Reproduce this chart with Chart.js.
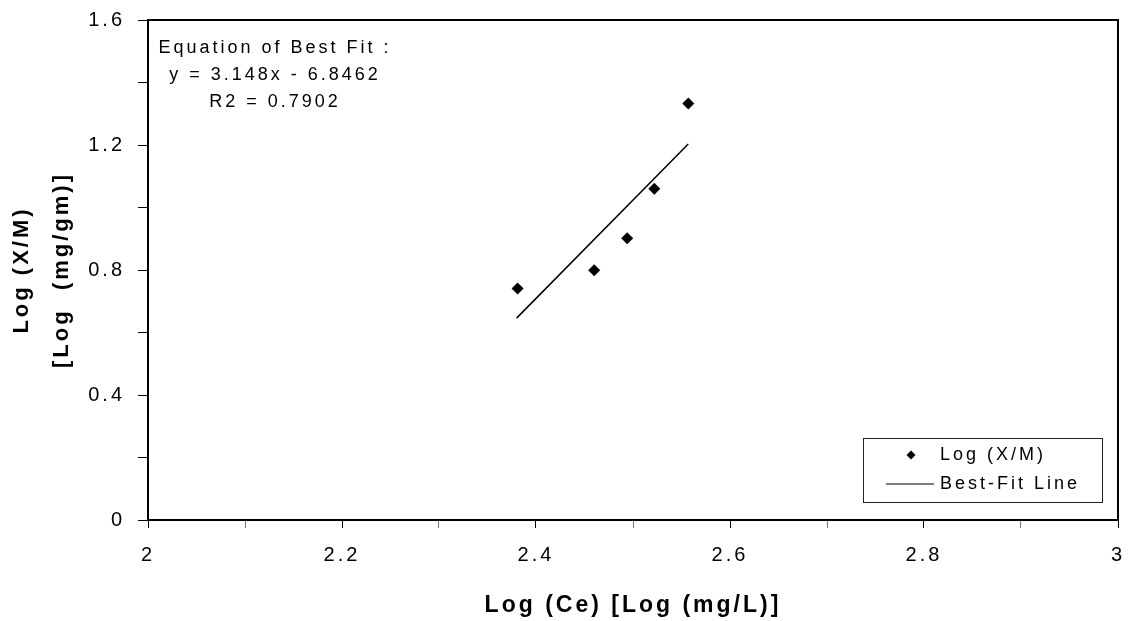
<!DOCTYPE html>
<html><head><meta charset="utf-8">
<script src="https://cdn.jsdelivr.net/npm/chart.js@4/dist/chart.umd.min.js"></script>
<style>html,body{margin:0;padding:0;background:#fff;} #wrap{width:1130px;height:621px;position:relative;}</style>
</head><body><div id="wrap"><canvas id="c" width="1130" height="621"></canvas></div>
<script>
const logCe = [2.381, 2.460, 2.494, 2.522, 2.557];
const logXM = [0.741, 0.799, 0.902, 1.060, 1.333];
const fitX = [2.380, 2.557];
const fitY = [0.646, 1.203];
const xTickLabels = ['2', '2.2', '2.4', '2.6', '2.8', '3'];
const yTickLabels = ['0', '0.4', '0.8', '1.2', '1.6'];
const seriesNames = ['Log (X/M)', 'Best-Fit Line'];
const xTitle = 'Log (Ce) [Log (mg/L)]';
const yTitle = ['Log (X/M)', '[Log  (mg/gm)]'];
const noteLines = ['Equation of Best Fit :', 'y = 3.148x - 6.8462', 'R2 = 0.7902'];

const FONT = "'Liberation Sans', Arial, sans-serif";
const SPACING = '3px';

const spacingPlugin = {
  id: 'spacing',
  beforeUpdate(c) { c.ctx.letterSpacing = SPACING; },
  beforeDraw(c) { c.ctx.letterSpacing = SPACING; }
};

const decorPlugin = {
  id: 'decor',
  afterDraw(c) {
    const ctx = c.ctx, a = c.chartArea;
    ctx.save();
    ctx.letterSpacing = SPACING;
    // frame top and right
    ctx.strokeStyle = '#000';
    ctx.lineWidth = 2;
    ctx.beginPath();
    ctx.moveTo(a.left, a.top);
    ctx.lineTo(a.right, a.top);
    ctx.lineTo(a.right, a.bottom);
    ctx.stroke();
    // notes
    ctx.fillStyle = '#000';
    ctx.font = '18px ' + FONT;
    ctx.textAlign = 'center';
    ctx.textBaseline = 'middle';
    noteLines.forEach((t, i) => ctx.fillText(t, a.left + 127, a.top + 28 + i * 27));
    // legend box
    const bx = a.right - 255, by = a.bottom - 82, bw = 239, bh = 64;
    ctx.lineWidth = 1;
    ctx.strokeStyle = '#222';
    ctx.strokeRect(bx + 0.5, by + 0.5, bw, bh);
    const ds = c.data.datasets;
    // diamond
    const dx = bx + 48, dy = by + 17, r = 4.5;
    ctx.fillStyle = ds[0].backgroundColor;
    ctx.beginPath();
    ctx.moveTo(dx, dy - r); ctx.lineTo(dx + r, dy); ctx.lineTo(dx, dy + r); ctx.lineTo(dx - r, dy);
    ctx.closePath(); ctx.fill();
    // line
    ctx.strokeStyle = ds[1].borderColor;
    ctx.lineWidth = 1.2;
    ctx.beginPath();
    ctx.moveTo(bx + 23, by + 46); ctx.lineTo(bx + 71, by + 46); ctx.stroke();
    ctx.fillStyle = '#000';
    ctx.font = '18px ' + FONT;
    ctx.textAlign = 'left';
    ctx.fillText(ds[0].label, bx + 77, dy);
    ctx.fillText(ds[1].label, bx + 77, by + 46);
    ctx.restore();
  }
};

new Chart(document.getElementById('c'), {
  type: 'scatter',
  data: {
    datasets: [
      {
        label: seriesNames[0],
        data: logCe.map((x, i) => ({ x: x, y: logXM[i] })),
        pointStyle: 'rectRot',
        pointRadius: 6,
        backgroundColor: '#000',
        borderColor: '#000',
        borderWidth: 0,
        showLine: false
      },
      {
        label: seriesNames[1],
        data: fitX.map((x, i) => ({ x: x, y: fitY[i] })),
        showLine: true,
        pointRadius: 0,
        borderColor: '#000',
        borderWidth: 1.5,
        fill: false
      }
    ]
  },
  options: {
    responsive: false,
    devicePixelRatio: 1,
    animation: false,
    layout: { padding: { left: 0, top: 20, right: 12, bottom: 0 } },
    plugins: { legend: { display: false }, tooltip: { enabled: false } },
    scales: {
      x: {
        type: 'linear', min: 2, max: 3,
        border: { display: true, color: '#000', width: 2 },
        grid: { drawOnChartArea: false, drawTicks: true, tickLength: 8,
                tickColor: (ctx) => (ctx.index % 2 ? '#777' : '#000'), lineWidth: 1 },
        ticks: {
          stepSize: 0.1, autoSkip: false, maxRotation: 0, padding: 15, color: '#000',
          font: { family: FONT, size: 20 },
          callback: (v, i) => (i % 2 === 0 ? xTickLabels[i / 2] : '')
        },
        title: { display: true, text: xTitle, color: '#000',
                 font: { family: FONT, size: 23, weight: 'bold', lineHeight: 1.2 },
                 padding: { top: 0, bottom: 2 } },
        afterFit: (s) => { s.height = 101; s.paddingLeft = 0; s.paddingRight = 0; }
      },
      y: {
        type: 'linear', min: 0, max: 1.6,
        border: { display: true, color: '#000', width: 2 },
        grid: { drawOnChartArea: false, drawTicks: true, tickLength: 10, tickColor: '#000', lineWidth: 1 },
        ticks: {
          stepSize: 0.2, autoSkip: false, padding: 13, color: '#000',
          font: { family: FONT, size: 20 },
          callback: (v, i) => (i % 2 === 0 ? yTickLabels[i / 2] : '')
        },
        title: { display: true, text: yTitle, color: '#000',
                 font: { family: FONT, size: 22, weight: 'bold', lineHeight: 1.82 },
                 padding: { top: 2, bottom: 0 } },
        afterFit: (s) => { s.width = 148; s.paddingTop = 0; s.paddingBottom = 0; }
      }
    }
  },
  plugins: [spacingPlugin, decorPlugin]
});
</script>
</body></html>
